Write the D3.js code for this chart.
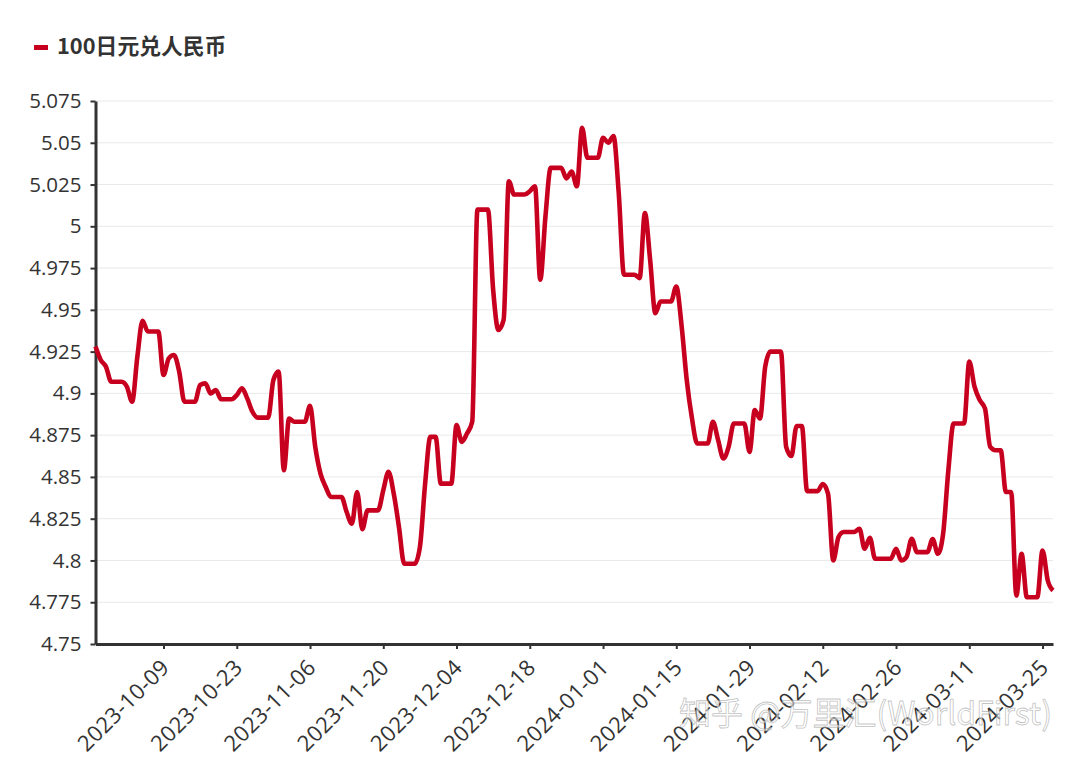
<!DOCTYPE html>
<html>
<head>
<meta charset="utf-8">
<script src="https://cdn.jsdelivr.net/npm/d3@7"></script>
<style>
  html, body { margin: 0; padding: 0; background: #fff; }
  text { font-family: "Open Sans", "Noto Sans CJK SC", sans-serif; }
</style>
</head>
<body>
<div class="chart"></div>
<script>
const seriesName = "100日元兑人民币";
const watermark = "知乎 @万里汇(WorldFirst)";

// one value per calendar day, 2023-09-26 to 2024-03-27
const values = [
  4.928, 4.920, 4.916, 4.907, 4.907, 4.907, 4.904, 4.895, 4.922, 4.9435,
  4.937, 4.937, 4.937, 4.911, 4.921, 4.923, 4.913, 4.895, 4.895, 4.895,
  4.905, 4.906, 4.900, 4.902, 4.8965, 4.8965, 4.8965, 4.899, 4.903, 4.897,
  4.889, 4.8855, 4.8855, 4.8855, 4.908, 4.913, 4.854, 4.885, 4.883, 4.883,
  4.883, 4.8925, 4.868, 4.852, 4.844, 4.838, 4.838, 4.838, 4.829, 4.822,
  4.841, 4.8187, 4.830, 4.830, 4.830, 4.842, 4.853, 4.840, 4.820, 4.798,
  4.798, 4.798, 4.808, 4.846, 4.874, 4.874, 4.846, 4.846, 4.846, 4.881,
  4.871, 4.876, 4.883, 5.010, 5.010, 5.010, 4.962, 4.938, 4.944, 5.027,
  5.019, 5.019, 5.019, 5.021, 5.024, 4.968, 5.006, 5.035, 5.035, 5.035,
  5.0287, 5.0327, 5.024, 5.059, 5.041, 5.041, 5.041, 5.053, 5.050, 5.054,
  5.020, 4.971, 4.971, 4.971, 4.969, 5.008, 4.980, 4.948, 4.955, 4.955,
  4.955, 4.964, 4.941, 4.908, 4.885, 4.870, 4.870, 4.870, 4.883, 4.872,
  4.861, 4.868, 4.882, 4.882, 4.882, 4.865, 4.890, 4.885, 4.916, 4.925,
  4.925, 4.925, 4.868, 4.8625, 4.8805, 4.8805, 4.8415, 4.8415, 4.8415, 4.8458,
  4.840, 4.800, 4.814, 4.817, 4.817, 4.817, 4.819, 4.807, 4.8136, 4.801,
  4.801, 4.801, 4.801, 4.807, 4.800, 4.802, 4.813, 4.805, 4.805, 4.805,
  4.8128, 4.804, 4.816, 4.854, 4.882, 4.882, 4.882, 4.919, 4.904, 4.896,
  4.891, 4.868, 4.866, 4.866, 4.841, 4.841, 4.779, 4.804, 4.778, 4.778,
  4.778, 4.806, 4.788, 4.782
];

const xTickLabels = [
  "2023-10-09", "2023-10-23", "2023-11-06", "2023-11-20", "2023-12-04", "2023-12-18", "2024-01-01",
  "2024-01-15", "2024-01-29", "2024-02-12", "2024-02-26", "2024-03-11", "2024-03-25"
];
const yTicks = [4.75, 4.775, 4.8, 4.825, 4.85, 4.875, 4.9, 4.925, 4.95, 4.975, 5, 5.025, 5.05, 5.075];

const fmtDay = d3.utcFormat("%Y-%m-%d");
const days = d3.utcDay.range(Date.UTC(2023, 8, 26), Date.UTC(2024, 2, 28)).map(fmtDay);

const width = 1080;
const height = 761;
const margin = { top: 101, left: 95.5, right: 27, bottom: 117 };
const lineColor = "#c8001f";
const textColor = "#333";

const svg = d3.select(".chart")
  .append("svg")
  .attr("width", width)
  .attr("height", height)
  .style("display", "block");

const xScale = d3.scalePoint()
  .domain(days)
  .range([margin.left, width - margin.right]);

const yScale = d3.scaleLinear()
  .domain([4.75, 5.075])
  .range([height - margin.bottom, margin.top]);

// grid
svg.append("g")
  .selectAll("line")
  .data(yTicks.slice(1))
  .enter()
  .append("line")
  .attr("x1", margin.left)
  .attr("x2", width - margin.right)
  .attr("y1", d => yScale(d))
  .attr("y2", d => yScale(d))
  .attr("stroke", "#e9e9e9")
  .attr("stroke-width", 1);

// axes
const xAxis = d3.axisBottom(xScale).tickValues(xTickLabels).tickSize(5).tickSizeOuter(0).tickPadding(6);
const yAxis = d3.axisLeft(yScale).tickValues(yTicks).tickFormat(d => String(+d.toFixed(3))).tickSize(5).tickSizeOuter(0).tickPadding(9);

const gx = svg.append("g")
  .attr("class", "axis x-axis")
  .attr("transform", `translate(0,${height - margin.bottom})`)
  .call(xAxis);

gx.selectAll("text")
  .attr("font-size", 22)
  .attr("fill", textColor)
  .attr("text-anchor", "end")
  .attr("dx", 0)
  .attr("dy", 0)
  .attr("transform", "translate(-1,17) rotate(-45)")
  .attr("letter-spacing", 0.4);

const gy = svg.append("g")
  .attr("class", "axis y-axis")
  .attr("transform", `translate(${margin.left},0)`)
  .call(yAxis);

gy.selectAll("text")
  .attr("font-size", 20.5)
  .attr("fill", textColor);

svg.selectAll(".axis path")
  .attr("stroke", textColor)
  .attr("stroke-width", 3);
svg.selectAll(".axis .tick line")
  .attr("stroke", textColor)
  .attr("stroke-width", 2);

// series
const line = d3.line()
  .x((d, i) => xScale(days[i]))
  .y(d => yScale(d))
  .curve(d3.curveMonotoneX);

svg.append("path")
  .datum(values)
  .attr("fill", "none")
  .attr("stroke", lineColor)
  .attr("stroke-width", 4.6)
  .attr("stroke-linejoin", "round")
  .attr("d", line);

// legend
svg.append("rect")
  .attr("x", 34)
  .attr("y", 45)
  .attr("width", 14)
  .attr("height", 5)
  .attr("fill", lineColor);

svg.append("text")
  .attr("x", 57)
  .attr("y", 54)
  .attr("font-size", 21.8)
  .attr("font-weight", 700)
  .attr("fill", textColor)
  .style("font-family", '"Noto Sans CJK SC", sans-serif')
  .text(seriesName);

// watermark
svg.append("text")
  .attr("x", 1052)
  .attr("y", 725)
  .attr("text-anchor", "end")
  .attr("font-size", 32)
  .attr("fill", "#fff")
  .attr("fill-opacity", 0.55)
  .attr("stroke", "#999")
  .attr("stroke-opacity", 0.6)
  .attr("stroke-width", 0.8)
  .style("font-family", '"Noto Sans CJK SC", sans-serif')
  .text(watermark);
</script>
</body>
</html>
